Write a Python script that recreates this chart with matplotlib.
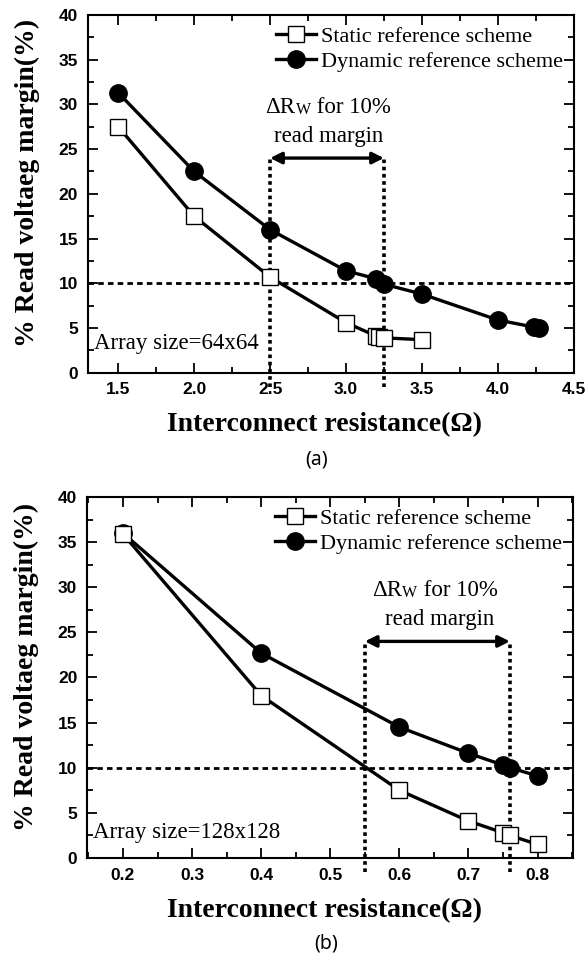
import numpy as np
import matplotlib
matplotlib.use("Agg")
import matplotlib.pyplot as plt
from matplotlib.ticker import MultipleLocator

# (a) array size 64x64
x_static_a = [1.5, 2.0, 2.5, 3.0, 3.2, 3.22, 3.25, 3.5]
y_static_a = [27.5, 17.5, 10.7, 5.6, 4.1, 4.0, 3.9, 3.7]
x_dyn_a = [1.5, 2.0, 2.5, 3.0, 3.2, 3.25, 3.5, 4.0, 4.24, 4.27]
y_dyn_a = [31.3, 22.5, 16.0, 11.4, 10.5, 9.9, 8.8, 5.9, 5.1, 5.0]
span_a = [2.5, 3.25]

# (b) array size 128x128
x_static_b = [0.2, 0.4, 0.6, 0.7, 0.75, 0.76, 0.8]
y_static_b = [35.9, 18.0, 7.5, 4.1, 2.8, 2.5, 1.5]
x_dyn_b = [0.2, 0.4, 0.6, 0.7, 0.75, 0.76, 0.8]
y_dyn_b = [36.0, 22.7, 14.5, 11.6, 10.3, 10.0, 9.1]
span_b = [0.55, 0.76]

margin_level = 10

serif = "Liberation Serif"
sans = "Liberation Sans"

fig = plt.figure(figsize=(5.86, 9.58), dpi=100)
ax_a = fig.add_axes([0.150, 0.6109, 0.829, 0.3735])
ax_b = fig.add_axes([0.1485, 0.1044, 0.829, 0.3768])


def draw_panel(ax, xs, ys, xd, yd, span, xlim, xmaj, xmin_, size_label,
               txt_x, size_y):
    ax.plot(xs, ys, '-s', color='k', lw=2.4, ms=11, mfc='white', mec='k',
            mew=1, label='Static reference scheme', zorder=4)
    ax.plot(xd, yd, '-o', color='k', lw=2.4, ms=12.5, mfc='k', mec='k',
            label='Dynamic reference scheme', zorder=3)

    ax.axhline(margin_level, color='k', lw=2, ls=(0, (2, 1.5)), zorder=2)
    for xv in span:
        ax.plot([xv, xv], [-1.6, 24.0], color='k', lw=2.6, ls=(0, (1, 1)),
                clip_on=False, zorder=2)
    ax.annotate('', xy=(span[1], 24.0), xytext=(span[0], 24.0),
                arrowprops=dict(arrowstyle='<|-|>', color='k', lw=2.4,
                                mutation_scale=17, shrinkA=0, shrinkB=0))

    # "ΔRw for 10%" with small-cap W, then "read margin" below
    t1 = ax.text(txt_x, 29.6, '\u0394R', fontsize=16.5, family=serif,
                 va='center', ha='left')
    t2 = ax.annotate('W', xy=(1, 0.04), xycoords=t1, fontsize=11.5,
                     family=serif, va='bottom', ha='left')
    ax.annotate(' for 10%', xy=(1, -0.03), xycoords=t2, fontsize=16.5,
                family=serif, va='bottom', ha='left')
    ax.text(np.mean(span) + (xlim[1] - xlim[0]) * 0.004, 26.4, 'read margin',
            fontsize=16.5, family=serif, ha='center', va='center')

    ax.text(xlim[0] + (xlim[1] - xlim[0]) * 0.013, size_y, size_label,
            fontsize=16.5, family=serif, ha='left', va='center')

    ax.set_xlim(*xlim)
    ax.set_ylim(0, 40)
    ax.xaxis.set_major_locator(MultipleLocator(xmaj))
    ax.xaxis.set_minor_locator(MultipleLocator(xmin_))
    ax.yaxis.set_major_locator(MultipleLocator(5))
    ax.yaxis.set_minor_locator(MultipleLocator(2.5))
    ax.tick_params(which='both', direction='in', top=True, right=True,
                   width=1.3)
    ax.tick_params(which='major', length=7, pad=7)
    ax.tick_params(which='minor', length=4)
    ax.set_xticks(ax.get_xticks())
    ax.set_xticklabels(['{:.1f}'.format(v) for v in ax.get_xticks()])
    for lab in ax.get_xticklabels() + ax.get_yticklabels():
        lab.set_family(sans)
        lab.set_fontweight('bold')
        lab.set_fontsize(12.5)
    ax.set_xlim(*xlim)
    for sp in ax.spines.values():
        sp.set_linewidth(1.5)

    ax.set_ylabel('% Read voltaeg margin(%)', fontsize=20, family=serif,
                  fontweight='bold')
    ax.yaxis.label.set_va('center')
    ax.yaxis.set_label_coords(-0.125, 0.53)
    ax.set_xlabel('Interconnect resistance(\u03a9)', fontsize=20,
                  family=serif, fontweight='bold')
    ax.xaxis.label.set_va('center')
    ax.xaxis.set_label_coords(0.488, -0.145)

    ax.legend(loc='upper right', frameon=False,
              prop=dict(family=serif, size=16), handlelength=1.8,
              handletextpad=0.2, borderaxespad=0.1, labelspacing=0.22)


draw_panel(ax_a, x_static_a, y_static_a, x_dyn_a, y_dyn_a, span_a,
           (1.3, 4.5), 0.5, 0.25, 'Array size=64x64', 2.47, 3.3)
draw_panel(ax_b, x_static_b, y_static_b, x_dyn_b, y_dyn_b, span_b,
           (0.148, 0.851), 0.1, 0.05, 'Array size=128x128', 0.561, 2.8)

fig.text(317 / 586, 1 - 460 / 958, '(a)', fontsize=14, family='Noto Sans',
         ha='center', va='center')
fig.text(326 / 586, 1 - 943 / 958, '(b)', fontsize=14, family='Noto Sans',
         ha='center', va='center')

fig.savefig('out.png', dpi=100)
